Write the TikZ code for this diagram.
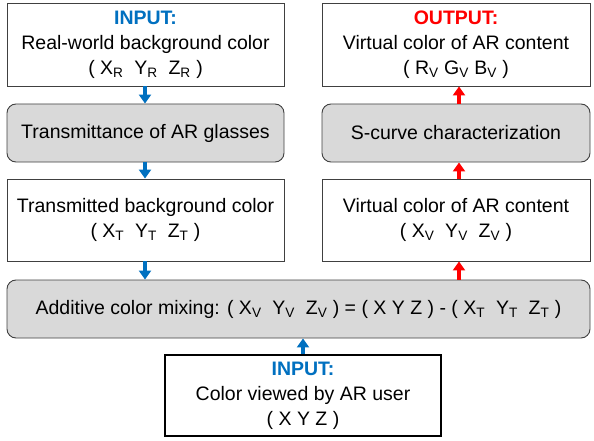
\documentclass[tikz,border=0pt]{standalone}
\usepackage{fontspec}
\setmainfont{Liberation Sans}
\usetikzlibrary{arrows.meta,calc}
\definecolor{inblue}{HTML}{0070C0}
\definecolor{outred}{HTML}{FF0000}
\definecolor{boxgray}{HTML}{D9D9D9}
\definecolor{edge}{HTML}{404040}
\newcommand{\sbs}[1]{\textsubscript{#1}}
\begin{document}
\begin{tikzpicture}[x=1pt,y=-1pt,
  base/.style={draw=edge,line width=0.9pt,align=center,inner sep=0pt,
    font=\fontsize{19.5}{25}\selectfont,text=black},
  plainbox/.style={base,fill=white},
  graybox/.style={base,fill=boxgray,rounded corners=9pt},
  userbox/.style={base,draw=black,line width=2.4pt,fill=white},
  barrow/.style={draw=inblue,line width=3.4pt,-{Triangle[width=12pt,length=9pt]}},
  rarrow/.style={draw=outred,line width=3.4pt,-{Triangle[width=12pt,length=9pt]}}]
\useasboundingbox (0,0) rectangle (594,441);
\node[plainbox,minimum width=277pt,minimum height=83pt] (in1) at (145.5,44.5)
  {\textbf{\textcolor{inblue}{INPUT:}}\\Real-world background color\\( X\sbs{R}\ \ Y\sbs{R}\ \ Z\sbs{R} )};
\node[graybox,minimum width=277pt,minimum height=58pt] (trans) at (145.5,133)
  {Transmittance of AR glasses};
\node[plainbox,minimum width=277pt,minimum height=82pt] (tbg) at (145.5,220)
  {Transmitted background color\\( X\sbs{T}\ \ Y\sbs{T}\ \ Z\sbs{T} )};
\node[graybox,minimum width=583pt,minimum height=58pt] (mix) at (298.5,309)
  {Additive color mixing: ( X\sbs{V}\ \ Y\sbs{V}\ \ Z\sbs{V} ) = ( X Y Z ) - ( X\sbs{T}\ \ Y\sbs{T}\ \ Z\sbs{T} )};
\node[userbox,minimum width=276pt,minimum height=81pt] (user) at (303,395.5)
  {\textbf{\textcolor{inblue}{INPUT:}}\\Color viewed by AR user\\( X Y Z )};
\node[plainbox,minimum width=268pt,minimum height=83pt] (out) at (456,44.5)
  {\textbf{\textcolor{outred}{OUTPUT:}}\\Virtual color of AR content\\( R\sbs{V} G\sbs{V} B\sbs{V} )};
\node[graybox,minimum width=268pt,minimum height=58pt] (scurve) at (456,133)
  {S-curve characterization};
\node[plainbox,minimum width=268pt,minimum height=82pt] (vxyz) at (456,220)
  {Virtual color of AR content\\( X\sbs{V}\ \ Y\sbs{V}\ \ Z\sbs{V} )};
\coordinate (bx) at (145,0);
\coordinate (rx) at (459,0);
\coordinate (ux) at (303,0);
\draw[barrow] (in1.south -| bx) -- (trans.north -| bx);
\draw[barrow] (trans.south -| bx) -- (tbg.north -| bx);
\draw[barrow] (tbg.south -| bx) -- (mix.north -| bx);
\draw[barrow] (user.north -| ux) -- (mix.south -| ux);
\draw[rarrow] (mix.north -| rx) -- (vxyz.south -| rx);
\draw[rarrow] (vxyz.north -| rx) -- (scurve.south -| rx);
\draw[rarrow] (scurve.north -| rx) -- (out.south -| rx);
\end{tikzpicture}
\end{document}
